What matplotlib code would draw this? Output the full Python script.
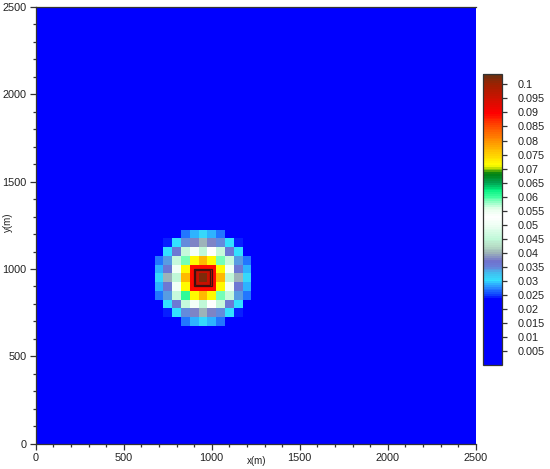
import numpy as np
import matplotlib
matplotlib.use("Agg")
import matplotlib.pyplot as plt
from matplotlib.colors import LinearSegmentedColormap, Normalize
from matplotlib.patches import Rectangle
from matplotlib.ticker import MultipleLocator

plt.rcParams['font.family'] = ['Liberation Sans', 'DejaVu Sans']

CELL = 50
CENTER = 950
VMIN, VMAX = 0.0, 0.1037
cbar_ticks = [0.005, 0.01, 0.015, 0.02, 0.025, 0.03, 0.035, 0.04, 0.045, 0.05,
              0.055, 0.06, 0.065, 0.07, 0.075, 0.08, 0.085, 0.09, 0.095, 0.1]
cbar_labels = ['0.005', '0.01', '0.015', '0.02', '0.025', '0.03', '0.035', '0.04', '0.045', '0.05',
               '0.055', '0.06', '0.065', '0.07', '0.075', '0.08', '0.085', '0.09', '0.095', '0.1']
contour_half = [50, 43]

# concentration on the 11x11 patch around the source, top row first
patch = np.array([
    [0.010, 0.010, 0.010, 0.027, 0.029, 0.0305, 0.029, 0.027, 0.010, 0.010, 0.010],
    [0.010, 0.0245, 0.030, 0.0345, 0.038, 0.040, 0.038, 0.0345, 0.030, 0.0245, 0.010],
    [0.010, 0.030, 0.036, 0.046, 0.051, 0.045, 0.053, 0.046, 0.036, 0.030, 0.010],
    [0.027, 0.034, 0.046, 0.0585, 0.0715, 0.0765, 0.0715, 0.0585, 0.046, 0.034, 0.027],
    [0.029, 0.036, 0.050, 0.0715, 0.089, 0.089, 0.089, 0.0715, 0.050, 0.036, 0.029],
    [0.0305, 0.040, 0.045, 0.0765, 0.089, 0.102, 0.089, 0.0765, 0.045, 0.040, 0.0305],
    [0.029, 0.036, 0.050, 0.0715, 0.089, 0.089, 0.089, 0.0715, 0.050, 0.036, 0.029],
    [0.027, 0.034, 0.046, 0.0605, 0.0715, 0.0765, 0.0715, 0.0585, 0.046, 0.034, 0.027],
    [0.010, 0.030, 0.036, 0.046, 0.051, 0.045, 0.053, 0.046, 0.036, 0.030, 0.010],
    [0.010, 0.0245, 0.030, 0.0345, 0.038, 0.040, 0.038, 0.0345, 0.030, 0.0245, 0.010],
    [0.010, 0.010, 0.010, 0.027, 0.029, 0.0305, 0.029, 0.027, 0.010, 0.010, 0.010],
])

cmap_stops = [
    (0.000, '#0000ff'), (0.0235, '#0000ff'), (0.025, '#1048ff'), (0.0275, '#2a8aff'),
    (0.030, '#33e0ff'), (0.0325, '#40c0f0'), (0.035, '#6a80d8'), (0.037, '#7070cc'),
    (0.040, '#a0b8b8'), (0.0425, '#b8e0c8'), (0.045, '#c0f8d8'), (0.050, '#f0fff5'),
    (0.053, '#ffffff'), (0.056, '#e0ffe8'), (0.060, '#40ffa0'), (0.0625, '#00f080'),
    (0.065, '#00a050'), (0.0683, '#008010'), (0.070, '#a0d000'), (0.0713, '#ffff00'),
    (0.0765, '#ffc000'), (0.080, '#ff9000'), (0.085, '#ff5000'), (0.090, '#ff0000'),
    (0.095, '#d01000'), (0.100, '#a02000'), (VMAX, '#6a3010'),
]
cmap = LinearSegmentedColormap.from_list(
    'tecplot', [(v / VMAX, c) for v, c in cmap_stops], N=160)
norm = Normalize(VMIN, VMAX)

W, H = 550, 469
fig = plt.figure(figsize=(W / 100, H / 100), dpi=100)
ax = fig.add_axes([35.7 / W, 1 - 443.8 / H, 440 / W, 437 / H])

x_edges = np.clip(np.arange(-CELL / 2, 2500 + CELL, CELL), 0, 2500)
field = np.full((len(x_edges) - 1, len(x_edges) - 1), 0.005)
n = patch.shape[0]
i0 = CENTER // CELL - n // 2
field[i0:i0 + n, i0:i0 + n] = patch[::-1]
ax.pcolormesh(x_edges, x_edges, field, cmap=cmap, norm=norm, shading='flat')

# darker interior of the contour loops, then the peak cell on top of it
ax.add_patch(Rectangle((CENTER - contour_half[0], CENTER - contour_half[0]),
                       2 * contour_half[0], 2 * contour_half[0],
                       fc='#c81000', ec='none', zorder=2))
ax.add_patch(Rectangle((CENTER - CELL / 2, CENTER - CELL / 2), CELL, CELL,
                       fc=cmap(norm(patch.max())), ec='none', zorder=2.5))
for h in contour_half:
    ax.add_patch(Rectangle((CENTER - h, CENTER - h), 2 * h, 2 * h, fill=False,
                           ec='#401010', lw=0.9, zorder=3))

ax.set_xlim(0, 2500)
ax.set_ylim(0, 2500)
ax.set_aspect('auto')
for axis in (ax.xaxis, ax.yaxis):
    axis.set_major_locator(MultipleLocator(500))
    axis.set_minor_locator(MultipleLocator(100))
ax.tick_params(which='major', direction='out', length=4, width=0.9, color='#333333',
               labelsize=7.8, labelcolor='#222222', pad=2.5)
ax.tick_params(which='minor', direction='out', length=2.5, width=0.9, color='#333333')
for s in ax.spines.values():
    s.set_linewidth(0.9)
    s.set_color('#333333')
ax.spines['right'].set_visible(False)
fig.text(257 / W, 1 - 461 / H, 'x(m)', ha='center', va='center', fontsize=7, color='#222222')
fig.text(8 / W, 1 - 222 / H, 'y(m)', ha='center', va='center', rotation=90, fontsize=7, color='#222222')

cax = fig.add_axes([483 / W, 1 - 365 / H, 19 / W, 291 / H])
sm = plt.cm.ScalarMappable(norm=norm, cmap=cmap)
cb = fig.colorbar(sm, cax=cax)
cb.set_ticks(cbar_ticks, labels=cbar_labels)
cb.minorticks_off()
cb.ax.tick_params(length=3.6, width=0.9, color='#333333', labelsize=7.8,
                  labelcolor='#222222', pad=8)
cb.outline.set_linewidth(0.9)
cb.outline.set_edgecolor('#333333')

fig.savefig('out.png', dpi=100)
